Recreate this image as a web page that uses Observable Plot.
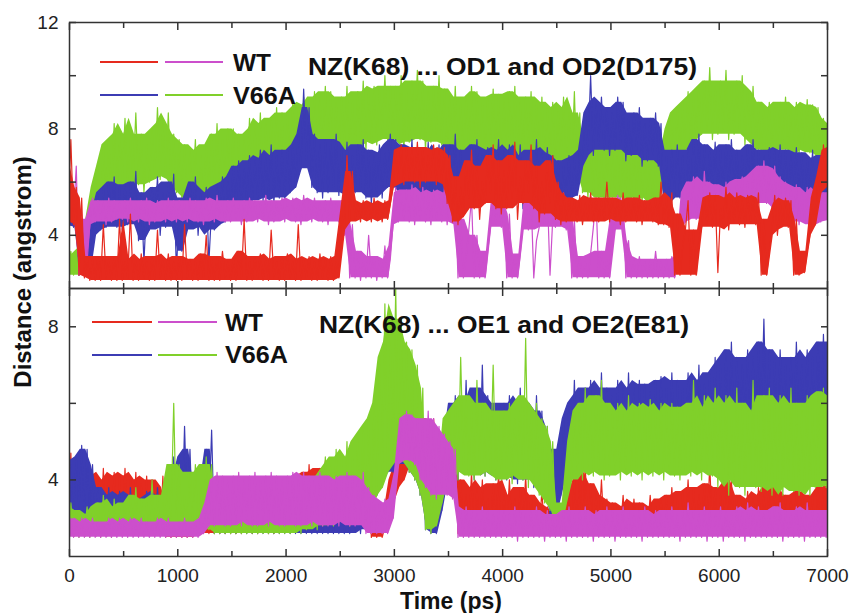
<!DOCTYPE html>
<html><head><meta charset="utf-8">
<script src="https://cdn.jsdelivr.net/npm/d3@7"></script>
<script src="https://cdn.jsdelivr.net/npm/@observablehq/plot@0.6"></script>
<style>
body{margin:0;background:#fff;}
#chart{position:relative;width:849px;height:613px;font-family:"Liberation Sans",Arial,sans-serif;color:#111;overflow:hidden;background:#fff}
.panel{position:absolute;left:0}
.txt{position:absolute;font-weight:bold;white-space:nowrap;line-height:1;transform-origin:0 50%}
.sw{position:absolute;height:2px}
</style></head><body><div id="chart"></div><script>
// ---- time sampling (ps) ----
const step = 50;
const time = d3.range(0, 7001, step);

// ---- tick values ----
const xMajor = [0,1000,2000,3000,4000,5000,6000,7000];
const xMinor = [500,1500,2500,3500,4500,5500,6500];
const yTopLabeled = [4,8,12];
const yTopMinor = [6,10];
const yBotLabeled = [4,8];
const yBotMinor = [6];

// ---- colours ----
const cRed = "#e62a1e", cMag = "#cc4fcc", cBlue = "#3c3cb4", cGreen = "#80d02a";

// ---- TOP PANEL: NZ(K68) ... OD1 and OD2(D175)  (min / max per 50 ps window) ----
const topRedLo = [4.6,4.4,2.5,2.4,2.3,2.3,2.3,2.4,2.3,2.3,
 2.3,2.4,2.3,2.3,2.4,2.3,2.3,2.4,2.3,2.3,
 2.3,2.3,2.4,2.3,2.3,2.4,2.3,2.3,2.3,2.4,
 2.3,2.3,2.4,2.3,2.3,2.4,2.3,2.3,2.4,2.3,
 2.3,2.4,2.3,2.3,2.4,2.3,2.3,2.4,2.3,2.3,
 2.4,4.2,4.5,4.6,4.5,4.6,4.5,4.6,4.5,4.6,
 5.8,6.0,5.9,6.1,6.0,5.8,6.0,6.2,5.9,6.0,
 5.2,4.5,4.4,4.7,5.4,5.0,4.6,5.2,5.6,5.0,
 4.8,5.0,5.4,4.6,5.2,5.6,5.0,4.5,4.8,5.2,
 4.6,4.4,4.5,4.6,4.5,4.4,4.6,4.5,4.5,4.6,
 4.5,4.6,4.4,4.5,4.6,4.5,4.4,4.6,4.5,4.4,
 4.4,4.3,2.5,2.5,4.2,2.5,2.5,4.3,4.4,4.3,
 2.6,4.4,4.2,4.5,4.4,4.3,4.5,4.4,2.5,2.5,
 4.2,4.0,4.4,4.3,2.5,2.5,2.6,4.0,4.4,5.6,
 6.0];
const topRedHi = [7.6,5.8,5.4,3.2,3.1,3.2,4.4,3.1,3.2,4.6,
 3.0,4.8,3.1,3.3,3.0,3.2,4.2,3.1,3.3,3.0,
 3.2,4.4,3.1,3.0,3.3,4.0,3.1,3.2,3.4,3.0,
 3.1,3.4,4.6,3.0,3.2,3.3,3.1,4.2,3.0,3.2,
 3.3,3.0,4.4,3.1,3.2,3.0,3.3,3.1,3.2,3.0,
 4.8,7.0,6.4,5.2,5.3,5.2,5.4,5.2,5.3,5.2,
 7.2,7.4,7.3,7.2,7.5,7.3,7.0,7.4,7.2,7.3,
 7.0,6.2,5.8,6.8,7.2,6.6,6.0,7.0,7.4,6.8,
 6.4,7.0,7.5,6.2,6.8,7.4,6.6,6.0,6.8,7.0,
 6.0,5.6,5.4,5.3,5.5,5.2,5.6,5.4,5.3,6.0,
 5.4,5.3,5.6,5.2,5.4,5.5,5.3,5.2,5.4,6.0,
 5.4,5.6,4.8,3.6,5.3,4.2,3.8,5.4,5.6,5.5,
 5.0,5.8,5.4,5.6,5.3,5.5,5.4,5.6,4.6,3.4,
 5.5,5.2,5.4,5.3,4.6,3.2,3.4,5.4,6.2,7.4,
 7.2];
const topMagLo = [4.5,4.8,2.5,2.5,4.4,4.5,4.6,4.4,4.5,4.6,
 4.6,4.5,4.6,4.5,4.6,4.4,4.5,4.6,4.5,4.6,
 4.5,4.6,4.5,4.6,4.5,4.4,4.6,4.5,4.6,4.5,
 4.5,4.6,4.4,4.5,4.6,4.5,4.6,4.4,4.5,4.6,
 4.5,4.6,4.5,4.4,4.6,4.5,4.6,4.5,4.4,4.6,
 4.5,4.0,2.4,2.4,2.3,2.4,2.4,2.3,2.4,2.4,
 4.4,4.5,4.6,4.5,4.4,4.6,4.5,4.4,4.6,4.5,
 4.4,4.5,2.4,2.4,4.2,2.4,2.4,2.4,4.3,4.4,
 4.3,2.4,2.4,2.4,4.4,4.2,2.4,4.3,4.4,2.5,
 4.3,4.4,4.2,2.4,2.4,2.4,2.4,4.3,2.4,2.4,
 2.4,4.2,4.4,2.4,2.4,2.4,2.4,2.4,2.4,2.4,
 2.4,2.4,2.4,4.2,4.5,4.8,4.6,4.5,4.8,4.6,
 4.5,4.6,4.4,4.7,4.8,4.6,5.0,5.2,5.4,5.2,
 5.0,4.8,4.6,4.5,4.6,4.4,4.5,4.3,4.4,4.5,
 4.6];
const topMagHi = [5.4,6.6,4.6,3.0,5.4,5.3,5.2,5.4,5.3,5.2,
 5.3,5.4,5.2,5.3,5.4,5.2,5.3,5.2,5.4,5.3,
 5.3,5.2,5.4,5.3,5.2,5.4,5.3,5.5,5.2,5.3,
 5.4,5.2,5.3,5.4,5.3,5.2,5.5,5.3,5.2,5.4,
 5.3,5.4,5.2,5.5,5.3,5.4,5.2,5.3,5.4,5.2,
 5.3,5.4,4.4,3.4,3.1,4.0,3.2,3.1,3.6,3.1,
 5.8,5.6,5.7,5.9,5.5,5.8,5.6,5.7,5.5,5.8,
 5.6,5.4,4.6,3.2,5.4,4.0,3.2,3.4,5.5,5.6,
 5.4,4.8,3.2,3.3,5.6,5.4,3.8,5.5,5.6,4.6,
 5.4,5.6,5.4,4.6,3.2,3.0,3.3,5.4,3.4,3.1,
 4.8,5.5,5.4,3.8,3.1,3.2,3.0,3.1,3.4,3.0,
 3.1,3.2,3.0,5.6,6.0,6.2,5.8,6.4,6.0,5.9,
 5.8,6.0,5.7,6.1,6.2,6.0,6.4,6.6,6.8,6.5,
 6.6,6.2,6.0,5.8,5.9,5.6,5.8,5.6,5.8,5.6,
 5.6];
const topBlueLo = [4.4,4.3,2.5,2.5,2.6,4.0,4.2,4.3,4.5,4.3,
 4.2,4.4,4.5,3.8,3.0,4.2,4.4,4.0,4.3,4.5,
 2.6,3.4,4.2,4.4,4.0,4.3,3.0,4.2,4.4,4.5,
 5.0,5.2,5.1,5.3,5.2,5.4,5.3,5.5,5.2,5.4,
 5.4,5.6,5.8,6.5,6.8,5.8,5.6,5.4,5.6,5.8,
 5.5,5.6,5.3,5.6,5.8,5.4,5.2,5.6,5.4,5.8,
 5.8,5.6,5.4,5.8,5.5,5.3,5.7,5.4,5.6,5.2,
 5.5,5.8,5.4,5.0,5.6,5.8,5.2,5.5,5.4,5.7,
 5.4,5.6,5.2,5.5,5.0,5.4,5.6,5.3,5.5,5.2,
 5.2,5.0,5.4,5.2,5.5,6.6,7.2,7.0,7.4,7.2,
 7.0,7.2,7.4,6.8,7.0,7.2,6.6,6.8,7.0,6.6,
 5.0,5.2,5.5,5.4,5.2,5.6,5.8,5.5,5.4,5.6,
 5.4,5.6,5.8,5.5,5.4,5.6,5.8,5.5,5.3,5.6,
 5.4,5.6,5.5,5.3,5.6,5.4,5.2,5.5,5.0,5.4,
 5.6];
const topBlueHi = [5.6,5.5,4.2,3.6,4.8,5.6,5.8,6.0,6.2,5.8,
 5.9,6.0,6.4,5.6,5.2,5.8,6.2,5.6,6.0,6.3,
 5.2,5.4,6.0,6.2,5.6,5.8,5.0,5.9,6.2,6.0,
 6.6,6.8,6.5,7.0,6.8,7.2,6.9,7.4,7.0,7.2,
 7.2,7.4,7.8,9.5,8.8,7.8,7.4,7.6,7.6,7.8,
 7.2,7.5,7.0,7.4,7.6,7.2,7.0,7.4,7.1,7.8,
 7.6,7.4,7.2,7.6,7.3,7.0,7.5,7.1,7.4,7.0,
 7.4,7.8,7.2,6.8,7.4,7.6,7.0,7.3,7.2,7.6,
 7.2,7.4,7.0,7.4,6.8,7.2,7.6,7.1,7.3,7.0,
 6.8,6.6,7.0,6.9,7.2,8.6,10.0,9.0,9.2,8.8,
 8.6,9.2,9.0,8.4,8.6,8.8,8.2,8.4,8.6,8.2,
 7.0,7.2,7.4,7.0,7.2,7.6,7.8,7.4,7.2,7.5,
 7.2,7.4,7.6,7.2,7.0,7.4,7.6,7.2,7.0,7.3,
 7.2,7.4,7.2,7.0,7.3,7.1,6.9,7.2,6.8,7.0,
 7.0];
const topGreenLo = [2.5,2.5,2.5,2.5,3.6,4.2,5.0,5.2,5.4,5.6,
 6.0,5.8,6.2,5.9,5.6,6.0,6.3,6.1,6.2,5.8,
 5.6,5.4,5.2,5.6,5.0,5.4,5.6,5.8,5.6,5.8,
 5.8,5.6,5.5,6.0,5.8,6.2,6.0,6.3,6.5,6.4,
 6.4,6.8,6.6,7.0,6.8,7.2,7.0,7.4,7.2,7.0,
 7.2,7.4,7.0,7.3,7.6,7.2,7.5,7.4,7.8,7.6,
 7.4,7.6,7.2,7.5,7.8,7.6,7.2,7.5,7.8,7.4,
 7.0,7.2,6.8,7.0,7.4,7.2,6.8,7.0,7.3,7.0,
 6.8,7.0,7.2,6.6,7.0,7.2,6.8,7.0,6.6,6.8,
 6.6,6.8,6.4,6.6,6.2,5.6,5.4,5.6,5.2,5.4,
 5.4,5.6,5.2,5.4,5.3,5.5,5.2,5.4,5.0,5.2,
 6.0,6.6,6.8,7.0,7.2,7.4,7.6,7.8,8.0,7.6,
 7.8,8.0,7.6,7.8,8.0,7.4,7.6,7.2,7.0,7.2,
 7.0,7.2,7.4,7.0,7.2,7.0,7.3,7.1,7.0,6.0,
 6.2];
const topGreenHi = [3.4,3.0,3.6,4.6,5.8,6.6,7.4,7.6,8.2,7.8,
 8.4,7.6,8.6,7.8,7.4,8.0,8.8,8.2,8.6,7.8,
 7.6,7.4,7.2,7.6,7.0,7.4,7.8,8.2,7.6,8.0,
 8.0,7.8,7.6,8.4,8.0,8.6,8.2,8.4,8.8,8.6,
 8.6,9.0,8.8,9.2,8.9,9.4,9.2,9.6,9.4,9.0,
 9.2,9.6,9.0,9.4,9.8,9.4,9.6,9.5,10.0,9.6,
 9.6,10.0,9.4,9.8,10.2,9.8,9.4,9.6,10.0,9.5,
 9.2,9.6,9.0,9.2,9.6,9.4,9.0,9.2,9.5,9.3,
 9.0,9.4,9.6,9.0,9.2,9.4,9.0,9.2,8.8,9.0,
 8.8,9.2,8.6,9.4,8.6,7.6,7.4,7.6,7.2,7.4,
 7.4,7.6,7.2,7.5,7.3,7.6,7.0,7.2,6.8,7.0,
 8.0,8.6,8.8,9.0,9.4,9.2,9.6,9.8,10.3,9.6,
 9.8,10.2,9.6,9.8,10.0,9.4,9.6,9.0,8.8,9.0,
 8.8,9.0,9.2,8.8,9.0,8.8,9.1,8.9,8.8,8.4,
 8.0];

// ---- BOTTOM PANEL: NZ(K68) ... OE1 and OE2(E81) ----
const botRedLo = [2.6,2.6,2.7,2.6,2.7,2.6,2.6,2.7,2.6,2.6,
 2.6,2.7,2.6,2.6,2.7,2.6,2.6,2.6,2.5,2.5,
 2.5,2.5,2.5,2.5,2.6,2.6,2.6,2.6,2.6,2.6,
 2.6,2.6,2.6,2.7,2.6,2.6,2.7,2.6,2.6,2.7,
 2.7,2.8,2.7,2.8,2.8,2.9,2.8,2.8,2.9,2.8,
 2.9,2.8,2.9,3.0,2.8,2.9,2.5,2.5,2.5,3.2,
 3.4,3.8,4.0,4.4,4.6,4.4,4.5,4.3,4.2,4.0,
 3.8,3.9,2.6,2.7,2.6,2.6,2.7,2.6,2.6,2.7,
 2.6,2.7,2.6,2.6,2.7,2.6,2.6,2.7,2.6,2.6,
 2.6,2.6,2.7,2.6,2.6,2.7,2.6,2.6,2.7,2.6,
 2.6,2.6,2.7,2.6,2.6,2.7,2.6,2.6,2.7,2.6,
 2.6,2.7,2.6,2.6,2.7,2.6,2.6,2.7,2.6,2.6,
 2.6,2.6,2.7,2.6,2.6,2.7,2.6,2.6,2.7,2.6,
 2.6,2.7,2.6,2.6,2.7,2.6,2.6,2.7,2.6,2.6,
 2.7];
const botRedHi = [4.7,4.2,3.8,4.1,4.2,3.9,4.3,4.0,4.2,4.1,
 4.3,4.0,4.2,3.9,4.1,4.0,3.8,4.1,3.2,3.0,
 2.9,3.0,2.8,3.0,3.2,3.4,3.6,3.8,3.5,3.7,
 3.6,3.8,3.5,3.7,3.8,3.6,3.9,3.7,3.6,3.8,
 3.9,4.1,3.8,4.2,4.4,4.0,4.3,4.5,4.2,4.4,
 4.5,4.3,4.6,4.4,4.2,4.0,3.2,3.0,3.1,4.0,
 4.4,5.0,5.4,6.0,5.8,5.6,5.4,5.6,5.3,5.2,
 5.0,5.2,4.0,3.6,4.2,3.8,4.0,3.5,3.9,4.2,
 3.6,4.0,3.5,3.8,4.1,3.6,3.4,3.7,3.3,3.2,
 3.0,3.2,3.6,4.0,4.2,4.4,3.9,3.6,4.0,3.5,
 3.4,3.3,3.6,3.2,3.5,3.4,3.2,3.6,3.3,3.5,
 3.6,3.8,3.5,3.7,4.0,3.8,3.6,3.9,4.4,3.8,
 3.6,4.4,4.0,3.6,3.4,3.7,3.5,3.8,3.6,3.9,
 3.8,4.0,3.6,3.5,3.7,3.8,3.4,3.6,3.8,3.9,
 3.8];
const botMagLo = [2.5,2.5,2.5,2.5,2.5,2.5,2.5,2.5,2.5,2.5,
 2.5,2.5,2.5,2.5,2.5,2.5,2.5,2.5,2.5,2.5,
 2.5,2.5,2.5,2.5,2.5,2.6,2.8,2.8,2.9,2.8,
 2.8,2.9,2.8,2.9,2.8,2.8,2.9,2.8,2.9,2.8,
 2.8,2.9,2.8,2.8,2.9,2.8,2.9,2.8,2.8,2.9,
 2.8,2.9,2.8,2.8,2.9,2.6,2.6,2.6,2.6,2.6,
 3.0,4.4,4.6,4.5,4.4,4.0,3.8,3.6,3.5,3.8,
 3.6,3.5,2.5,2.5,2.5,2.5,2.5,2.5,2.5,2.5,
 2.5,2.5,2.5,2.4,2.5,2.5,2.5,2.5,2.4,2.5,
 2.5,2.5,2.4,2.5,2.5,2.5,2.5,2.4,2.5,2.5,
 2.5,2.4,2.5,2.5,2.5,2.5,2.4,2.5,2.5,2.5,
 2.5,2.5,2.5,2.4,2.5,2.5,2.5,2.5,2.4,2.5,
 2.5,2.4,2.5,2.5,2.5,2.4,2.5,2.5,2.5,2.5,
 2.5,2.5,2.4,2.5,2.5,2.5,2.4,2.5,2.5,2.5,
 2.5];
const botMagHi = [3.0,2.9,3.0,2.8,3.0,2.9,2.8,3.0,2.9,3.0,
 2.9,3.0,2.8,3.0,2.9,2.8,3.0,2.9,3.0,2.8,
 2.9,3.0,2.8,2.9,3.0,3.4,4.0,4.2,4.1,4.0,
 4.1,4.2,4.0,4.1,4.2,4.0,4.1,4.2,4.1,4.0,
 4.1,4.2,4.0,4.2,4.1,4.0,4.2,4.1,4.0,4.1,
 4.0,4.2,4.1,4.0,4.2,3.8,3.6,3.4,3.5,3.4,
 4.2,5.6,5.8,5.7,5.6,5.4,5.8,5.6,5.4,5.2,
 5.0,4.8,3.2,3.3,3.2,3.1,3.3,3.2,3.1,3.2,
 3.2,3.1,3.3,3.2,3.1,3.2,3.3,3.1,3.2,3.0,
 3.1,3.2,3.3,3.1,3.2,3.3,3.1,3.2,3.1,3.3,
 3.2,3.1,3.3,3.2,3.1,3.2,3.3,3.1,3.2,3.1,
 3.2,3.3,3.1,3.2,3.4,3.2,3.1,3.3,3.2,3.1,
 3.3,3.2,3.1,3.3,3.2,3.4,3.2,3.3,3.1,3.2,
 3.3,3.4,3.2,3.1,3.3,3.2,3.4,3.2,3.1,3.2,
 3.2];
const botBlueLo = [2.8,3.0,3.2,3.0,2.8,2.6,2.6,2.6,2.6,2.6,
 2.6,2.6,2.6,2.6,2.6,2.6,2.6,2.6,2.6,2.6,
 2.7,2.8,3.0,2.7,2.6,2.8,3.2,2.6,2.6,2.6,
 2.6,2.6,2.6,2.6,2.6,2.6,2.6,2.6,2.6,2.6,
 2.6,2.6,2.6,2.6,2.6,2.6,2.6,2.6,2.6,2.6,
 2.6,2.6,2.6,2.7,2.6,2.7,3.4,3.6,4.0,4.2,
 4.2,4.4,4.6,4.2,4.0,3.6,2.7,2.6,2.6,3.2,
 4.0,4.2,4.0,4.4,4.2,4.0,4.3,4.1,4.2,4.0,
 4.1,4.0,4.2,3.9,4.0,4.2,3.8,4.0,3.6,3.0,
 2.6,3.6,4.2,4.4,4.3,4.5,4.4,4.3,4.5,4.4,
 4.3,4.5,4.4,4.6,4.4,4.5,4.6,4.4,4.5,4.6,
 4.4,4.6,4.5,4.4,4.6,4.5,4.7,4.5,4.6,4.8,
 4.8,5.0,5.2,5.0,5.2,5.4,5.2,5.0,5.4,5.2,
 5.0,5.2,5.4,5.2,5.0,5.3,5.4,5.2,5.4,5.2,
 5.4];
const botBlueHi = [4.4,4.6,4.9,4.8,4.4,3.8,3.6,3.8,3.5,3.7,
 3.6,3.8,3.5,3.4,3.7,3.6,3.8,3.4,3.2,4.6,
 4.0,5.4,4.8,3.8,3.6,4.8,5.3,3.2,3.0,3.1,
 3.0,3.2,3.0,3.1,3.0,3.2,3.1,3.0,3.2,3.1,
 3.2,3.0,3.4,3.1,3.3,3.5,3.2,3.4,3.6,3.3,
 3.4,3.6,3.3,3.8,3.5,3.7,5.6,6.4,7.4,8.0,
 8.2,7.6,7.2,7.0,6.6,5.6,4.0,3.4,3.6,5.0,
 6.0,6.2,5.8,6.6,6.0,6.4,7.0,6.2,6.0,5.8,
 6.0,6.2,5.8,6.4,6.0,5.8,6.2,5.8,5.4,4.8,
 3.6,5.6,6.0,6.6,6.2,6.4,6.6,6.2,6.8,6.4,
 6.2,6.6,6.4,6.8,6.4,6.6,6.5,6.3,6.6,6.7,
 6.4,6.8,6.6,6.4,6.8,6.6,7.0,6.5,6.8,7.2,
 7.0,7.4,7.6,7.2,7.0,7.4,7.2,7.6,8.2,7.4,
 7.2,7.4,7.0,7.2,7.6,7.0,7.4,7.2,7.6,7.8,
 7.4];
const botGreenLo = [2.5,2.6,2.5,2.6,2.5,2.6,2.5,2.6,2.5,2.6,
 2.6,2.6,2.7,2.6,2.6,2.7,2.6,2.6,2.8,3.0,
 2.7,2.6,2.8,2.9,2.7,2.8,2.7,2.6,2.6,2.6,
 2.6,2.6,2.6,2.6,2.6,2.6,2.6,2.6,2.6,2.6,
 2.6,2.6,2.7,2.6,2.7,2.8,2.7,2.8,2.9,2.8,
 2.9,3.0,2.8,3.0,3.2,3.0,3.2,3.6,3.8,4.2,
 4.6,4.4,4.8,4.2,4.0,3.6,2.7,2.6,2.8,3.4,
 4.0,4.2,4.0,4.4,4.1,4.0,4.3,4.1,4.2,4.0,
 4.0,4.2,3.9,4.1,4.0,3.8,4.0,3.6,3.4,3.2,
 2.6,2.7,3.4,4.0,4.2,4.0,4.3,4.1,4.2,4.0,
 4.1,4.2,4.0,4.2,4.1,4.3,4.0,4.2,4.1,4.2,
 4.0,4.2,4.1,4.0,4.2,4.1,4.3,4.0,4.2,4.1,
 3.8,4.0,3.6,4.0,3.8,3.6,4.0,3.8,3.7,4.0,
 3.6,3.8,3.6,3.9,3.7,3.6,3.8,3.6,3.8,3.9,
 3.8];
const botGreenHi = [3.4,3.2,3.0,3.3,3.1,3.4,3.6,3.2,3.5,3.3,
 3.4,3.6,3.8,3.5,3.4,4.0,3.6,3.4,4.4,6.0,
 4.4,3.6,4.2,4.4,3.8,4.6,4.4,3.4,3.2,3.0,
 3.0,3.2,3.0,3.1,3.3,3.1,3.0,3.2,3.6,3.1,
 3.3,3.6,3.4,3.5,4.0,3.8,4.2,4.6,4.4,4.8,
 4.6,5.0,4.6,5.2,5.4,5.6,6.0,7.2,8.6,7.6,
 9.0,8.2,7.6,7.4,7.0,6.4,4.4,3.6,4.0,5.6,
 5.8,6.0,7.2,6.2,5.8,6.6,6.0,5.8,7.0,5.7,
 5.8,6.0,5.6,6.2,7.7,5.8,6.0,5.6,5.4,5.0,
 3.2,3.4,5.0,5.8,6.0,6.4,5.8,6.2,6.6,6.0,
 5.8,6.0,5.7,6.2,5.8,6.0,5.9,6.1,5.8,6.0,
 5.8,6.0,5.9,5.8,6.0,6.6,5.9,6.2,5.8,6.4,
 6.0,6.2,5.6,6.4,6.0,5.8,6.6,5.8,6.2,6.4,
 6.0,6.2,5.8,6.4,6.0,5.8,6.2,6.0,6.3,6.4,
 6.0];

// ---- series (draw order = layering) ----
const topSeries = [
  {lo: topGreenLo, hi: topGreenHi, color: cGreen},
  {lo: topBlueLo, hi: topBlueHi, color: cBlue},
  {lo: topMagLo, hi: topMagHi, color: cMag},
  {lo: topRedLo, hi: topRedHi, color: cRed}
];
const botSeries = [
  {lo: botRedLo, hi: botRedHi, color: cRed},
  {lo: botBlueLo, hi: botBlueHi, color: cBlue},
  {lo: botGreenLo, hi: botGreenHi, color: cGreen},
  {lo: botMagLo, hi: botMagHi, color: cMag}
];

const FONT = '"Liberation Sans", Arial, sans-serif';
const axisColor = "#333";

// each 50 ps window is traced from its minimum to its maximum (as a trajectory would be)
function trace(s) {
  return time.flatMap((t, i) => [
    {t: t - step / 4, d: s.lo[i]},
    {t: t + step / 4, d: s.hi[i]}
  ]);
}

function panel({series, yDomain, yLabeled, yMinor, height, marginTop, marginBottom, showX}) {
  const marks = [];
  for (const s of series) {
    const data = time.map((t, i) => ({t, lo: s.lo[i], hi: s.hi[i]}));
    // dense core of the fluctuation: running median of each window's extremes
    marks.push(Plot.areaY(data, Plot.windowY({k: 3, reduce: "median"}, {x: "t", y1: "lo", y2: "hi", fill: s.color, curve: "linear", clip: true})));
    // the trajectory itself, swinging between the extremes
    marks.push(Plot.lineY(trace(s), {x: "t", y: "d", stroke: s.color, strokeWidth: 1.2, curve: "linear", clip: true}));
  }
  marks.push(Plot.frame({stroke: axisColor, strokeWidth: 1.5}));
  for (const anchor of ["top", "bottom"]) {
    marks.push(Plot.axisX(xMajor, {anchor, tickSize: -7, fill: "none", stroke: axisColor, strokeWidth: 1.5, label: null}));
    marks.push(Plot.axisX(xMinor, {anchor, tickSize: -5, fill: "none", stroke: axisColor, strokeWidth: 1.5, label: null}));
  }
  for (const anchor of ["left", "right"]) {
    marks.push(Plot.axisY([...yLabeled, ...yMinor], {anchor, tickSize: -7, fill: "none", stroke: axisColor, strokeWidth: 1.5, label: null}));
  }
  marks.push(Plot.axisY(yLabeled, {anchor: "left", tickSize: 0, tickPadding: 11, stroke: "none", fill: "#222", fontSize: 19, label: null, tickFormat: d => String(d)}));
  if (showX) marks.push(Plot.axisX(xMajor, {anchor: "bottom", tickSize: 0, tickPadding: 12, stroke: "none", fill: "#222", fontSize: 19, label: null, tickFormat: d => String(d)}));
  return Plot.plot({
    width: 849, height, marginLeft: 69, marginRight: 22, marginTop, marginBottom,
    x: {domain: [0, 7000]}, y: {domain: yDomain},
    style: {fontFamily: FONT, fontSize: "19px", background: "transparent", overflow: "visible"},
    marks
  });
}

const chart = document.getElementById("chart");
const p1 = panel({series: topSeries, yDomain: [2, 12], yLabeled: yTopLabeled, yMinor: yTopMinor, height: 289, marginTop: 22, marginBottom: 1, showX: false});
p1.classList.add("panel"); p1.style.top = "0px";
const p2 = panel({series: botSeries, yDomain: [2, 9], yLabeled: yBotLabeled, yMinor: yBotMinor, height: 325, marginTop: 0, marginBottom: 57, showX: true});
p2.classList.add("panel"); p2.style.top = "288px";
chart.appendChild(p2);
chart.appendChild(p1);

// ---- legends, titles, axis titles ----
function swatch(x1, x2, y, color) {
  const d = document.createElement("div");
  d.className = "sw";
  d.style.left = x1 + "px"; d.style.width = (x2 - x1) + "px";
  d.style.top = (y - 1) + "px"; d.style.background = color;
  chart.appendChild(d);
}
function label(text, x, y, size, targetWidth) {
  const d = document.createElement("div");
  d.className = "txt";
  d.textContent = text;
  d.style.left = x + "px"; d.style.top = y + "px";
  d.style.fontSize = size + "px";
  chart.appendChild(d);
  const w = d.getBoundingClientRect().width;
  const s = targetWidth ? targetWidth / w : 1;
  d.style.transform = `translateY(-50%) scaleX(${s})`;
  return d;
}
const legendText = ["WT", "V66A"];
const titles = ["NZ(K68) ... OD1 and OD2(D175)", "NZ(K68) ... OE1 and OE2(E81)"];

// top panel legend
swatch(100, 158, 62, cRed); swatch(165, 223, 62, cMag);
swatch(100, 158, 95, cBlue); swatch(165, 223, 95, cGreen);
label(legendText[0], 233, 63, 23, 38);
label(legendText[1], 233, 96, 23, 63);
label(titles[0], 308, 67, 23, 389);
// bottom panel legend
swatch(92, 152, 322, cRed); swatch(158, 217, 322, cMag);
swatch(92, 152, 355, cBlue); swatch(158, 217, 355, cGreen);
label(legendText[0], 225, 323, 23, 38);
label(legendText[1], 225, 355, 23, 63);
label(titles[1], 319, 325, 23, 370);

// axis titles
const xt = document.createElement("div");
xt.className = "txt"; xt.textContent = "Time (ps)";
xt.style.fontSize = "23px"; xt.style.left = "451px"; xt.style.top = "601px";
xt.style.transformOrigin = "50% 50%";
xt.style.transform = "translate(-50%,-50%)";
chart.appendChild(xt);
const yt = document.createElement("div");
yt.className = "txt"; yt.textContent = "Distance (angstrom)";
yt.style.fontSize = "23px"; yt.style.left = "23px"; yt.style.top = "272px";
yt.style.transformOrigin = "50% 50%";
yt.style.transform = "translate(-50%,-50%) rotate(-90deg) scaleX(1.04)";
chart.appendChild(yt);
</script></body></html>
